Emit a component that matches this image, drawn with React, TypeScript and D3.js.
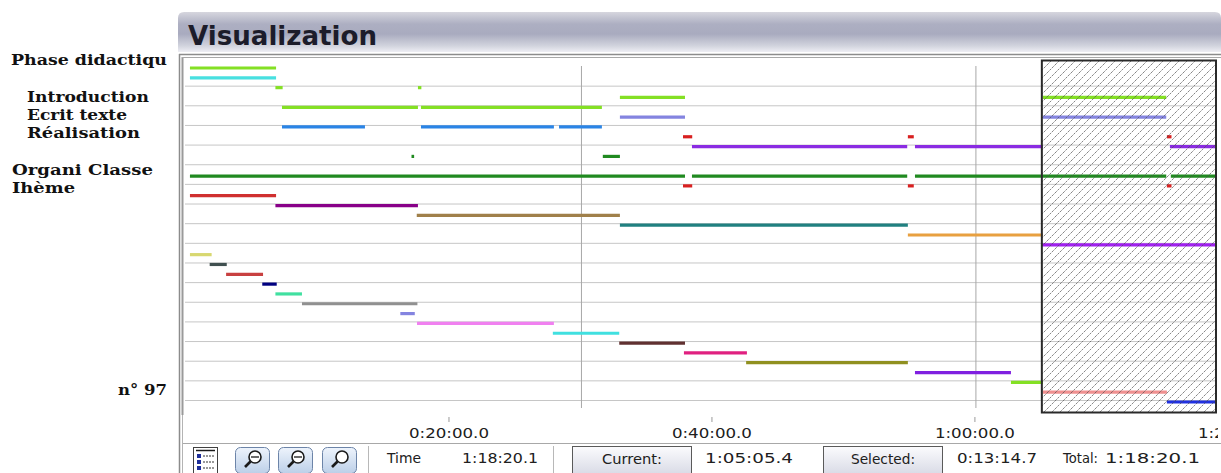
import React from "react";
import * as d3 from "d3";

// ---------- data ----------
const TOTAL_MINUTES = 78.335; // 1:18:20.1
const SELECTION_START = 65.09; // 1:05:05.4
const ROW_COUNT = 35;

const rowColors = [
  "#84e024", "#48e0e0", "#84e024", "#84e024", "#84e024", "#8484e0", "#2a84e6",
  "#d82020", "#8a2be2", "#208a20", "#208a20", "#208a20", "#d82020", "#d03030",
  "#880088", "#a0804a", "#208080", "#e8a040", "#a020f0", "#d8d870", "#405050",
  "#c84040", "#000080", "#40e0a0", "#909090", "#8484e0", "#f080f0", "#40e0e0",
  "#603030", "#e02080", "#909020", "#8020e0", "#84e024", "#f09090", "#2030e0",
];

// [row, start minute, end minute]
const episodes: [number, number, number][] = [
  [0, 0.3, 6.85],
  [1, 0.3, 6.85],
  [2, 6.8, 7.35], [2, 17.64, 17.9],
  [3, 33.0, 37.95], [3, 65.17, 74.55],
  [4, 7.3, 17.64], [4, 17.87, 31.63],
  [5, 33.0, 37.95], [5, 65.17, 74.55],
  [6, 7.3, 13.61], [6, 17.87, 27.98], [6, 28.37, 31.63],
  [7, 37.8, 38.5], [7, 54.9, 55.35], [7, 74.6, 74.95],
  [8, 38.48, 54.85], [8, 55.44, 65.17], [8, 74.83, 78.335],
  [9, 17.15, 17.35], [9, 31.7, 33.0],
  [11, 0.3, 37.95], [11, 38.48, 54.85], [11, 55.44, 74.55], [11, 74.9, 78.335],
  [12, 37.8, 38.5], [12, 54.9, 55.35], [12, 74.6, 74.95],
  [13, 0.3, 6.85],
  [14, 6.8, 17.64],
  [15, 17.55, 33.0],
  [16, 33.0, 54.9],
  [17, 54.9, 65.17],
  [18, 65.1, 78.335],
  [19, 0.3, 1.95],
  [20, 1.8, 3.1],
  [21, 3.05, 5.86],
  [22, 5.8, 6.9],
  [23, 6.8, 8.82],
  [24, 8.82, 17.6],
  [25, 16.3, 17.4],
  [26, 17.57, 27.98],
  [27, 27.9, 32.95],
  [28, 32.95, 37.95],
  [29, 37.87, 42.66],
  [30, 42.6, 54.9],
  [31, 55.44, 62.74],
  [32, 62.74, 65.17],
  [33, 65.17, 74.6],
  [34, 74.6, 78.335],
];

const tickMinutes = [20, 40, 60, 80];
const tickLabels = ["0:20:00.0", "0:40:00.0", "1:00:00.0", "1:20:00.0"];
const gridMinutes = [30, 60];

const rowLabels = ["Phase didactiqu", "Introduction", "Ecrit texte", "Réalisation", "Organi Classe", "Ihème", "n° 97"];

const statusTexts = ["Time", "1:18:20.1", "Current:", "1:05:05.4", "Selected:", "0:13:14.7", "Total:", "1:18:20.1"];

// ---------- layout ----------
const W = 1221;
const H = 473;
const PLOT = { left: 185, right: 1217, top: 59, bottom: 412 };
const labelLayout = [
  { x: 11, y: 65, w: 156 },
  { x: 27, y: 102, w: 122 },
  { x: 27, y: 120, w: 100 },
  { x: 27, y: 138, w: 113 },
  { x: 12, y: 175, w: 141 },
  { x: 12, y: 193, w: 63 },
  { x: 118, y: 395, w: 49 },
];

export default function App() {
  const x = d3.scaleLinear().domain([0, TOTAL_MINUTES]).range([186, 1216]);
  const y = d3.scalePoint<number>().domain(d3.range(ROW_COUNT)).range([68, 402]);
  const gridRows = d3.range(2, ROW_COUNT, 2);
  const selX0 = x(SELECTION_START);
  const selX1 = x(TOTAL_MINUTES) + 1;

  const sans = "'DejaVu Sans', Verdana, sans-serif";
  const serif = "'DejaVu Serif', serif";

  const zoomButtons = [235, 278, 322];

  return (
    <svg
      width={W}
      height={H}
      viewBox={`0 0 ${W} ${H}`}
      style={{ position: "absolute", left: 0, top: 0, display: "block", background: "#fff" }}
    >
      <defs>
        <linearGradient id="titleGrad" x1="0" y1="0" x2="0" y2="1">
          <stop offset="0" stopColor="#d6d6de" />
          <stop offset="0.3" stopColor="#adafc2" />
          <stop offset="0.55" stopColor="#a9abbf" />
          <stop offset="0.85" stopColor="#d2d4de" />
          <stop offset="1" stopColor="#eeeef4" />
        </linearGradient>
        <linearGradient id="btnGrad" x1="0" y1="0" x2="0" y2="1">
          <stop offset="0" stopColor="#fbfbfd" />
          <stop offset="1" stopColor="#d6d8e4" />
        </linearGradient>
        <linearGradient id="zoomGrad" x1="0" y1="0" x2="0" y2="1">
          <stop offset="0" stopColor="#eef4fc" />
          <stop offset="1" stopColor="#bccfe8" />
        </linearGradient>
        <pattern id="hatch" width="8" height="8" patternUnits="userSpaceOnUse">
          <path d="M-1,9 L9,-1 M-1,1 L1,-1 M7,9 L9,7" stroke="#4a4a4a" strokeWidth="0.8" strokeDasharray="2.5,1" />
        </pattern>
        <clipPath id="plotClip">
          <rect x={PLOT.left} y={PLOT.top} width={PLOT.right - PLOT.left} height={PLOT.bottom - PLOT.top + 4} />
        </clipPath>
        <clipPath id="axisClip">
          <rect x={PLOT.left} y={PLOT.bottom} width={PLOT.right - PLOT.left + 1} height={35} />
        </clipPath>
      </defs>

      {/* title bar */}
      <path d="M178,52 V18 Q178,12 184,12 H1215 Q1221,12 1221,18 V52 Z" fill="url(#titleGrad)" />
      <text x={188} y={45} fontFamily={sans} fontWeight="bold" fontSize={26} fill="#1c1c2a" textLength={189} lengthAdjust="spacingAndGlyphs">
        Visualization
      </text>

      {/* panel frame */}
      <line x1={179.5} y1={54} x2={179.5} y2={H} stroke="#8c8c8c" strokeWidth={1.5} />
      <line x1={182.5} y1={57} x2={182.5} y2={415} stroke="#9a9a9a" strokeWidth={2} />
      <line x1={182.5} y1={415} x2={182.5} y2={H} stroke="#b4b4b4" strokeWidth={1} />
      <line x1={179} y1={54.5} x2={W} y2={54.5} stroke="#8c8c8c" strokeWidth={1.5} />
      <line x1={182} y1={57.5} x2={W} y2={57.5} stroke="#a8a8a8" strokeWidth={1} />

      {/* grid */}
      <g clipPath="url(#plotClip)">
        {gridRows.map((r) => (
          <line key={r} x1={PLOT.left} x2={PLOT.right} y1={(y(r) as number) - 1.5} y2={(y(r) as number) - 1.5} stroke="#c6c6c6" strokeWidth={1} />
        ))}
        {gridMinutes.map((m) => (
          <line key={m} x1={x(m) + 1} x2={x(m) + 1} y1={66} y2={408} stroke="#a8a8a8" strokeWidth={1} />
        ))}

        {/* episodes */}
        {episodes.map(([r, s, e], i) => (
          <line
            key={i}
            x1={x(s)}
            x2={x(e)}
            y1={y(r) as number}
            y2={y(r) as number}
            stroke={rowColors[r]}
            strokeWidth={3.2}
          />
        ))}

        {/* selection */}
        <rect x={selX0} y={PLOT.top + 1.5} width={selX1 - selX0} height={PLOT.bottom - PLOT.top - 1} fill="url(#hatch)" opacity={0.85} />
        <rect x={selX0} y={PLOT.top + 1.5} width={selX1 - selX0 - 1} height={PLOT.bottom - PLOT.top - 1} fill="none" stroke="#2a2a2a" strokeWidth={2} />
      </g>

      {/* axis */}
      <g clipPath="url(#axisClip)">
        {tickMinutes.map((m, i) => (
          <g key={m}>
            <line x1={x(m)} x2={x(m)} y1={417} y2={422} stroke="#9a9a9a" strokeWidth={1} />
            <text x={x(m)} y={438} textAnchor="middle" fontFamily={sans} fontSize={14} fill="#202020" textLength={80} lengthAdjust="spacingAndGlyphs">
              {tickLabels[i]}
            </text>
          </g>
        ))}
      </g>

      {/* row labels */}
      {rowLabels.map((t, i) => (
        <text
          key={t}
          x={labelLayout[i].x}
          y={labelLayout[i].y}
          fontFamily={serif}
          fontWeight="bold"
          fontSize={14}
          fill="#111"
          textLength={labelLayout[i].w}
          lengthAdjust="spacingAndGlyphs"
        >
          {t}
        </text>
      ))}

      {/* toolbar */}
      <line x1={183} x2={W} y1={443.5} y2={443.5} stroke="#a8a8a8" strokeWidth={1} />
      {/* list icon */}
      <rect x={193.5} y={447.5} width={24} height={26} fill="#fff" stroke="#404040" strokeWidth={1} />
      <line x1={196} x2={215} y1={450.5} y2={450.5} stroke="#1a1a1a" strokeWidth={1.5} />
      {[454, 460, 466].map((yy) => (
        <g key={yy}>
          <rect x={197} y={yy} width={4} height={4} fill="#1e2e9a" />
          <line x1={203} x2={215} y1={yy + 2} y2={yy + 2} stroke="#333" strokeWidth={1} strokeDasharray="2,1" />
        </g>
      ))}
      {zoomButtons.map((bx, i) => (
        <g key={bx}>
          <rect x={bx + 0.5} y={447.5} width={34} height={26} rx={5} fill="url(#zoomGrad)" stroke="#6c84a8" strokeWidth={1} />
          <circle cx={bx + 20} cy={457} r={6} fill="#fff" stroke="#1a1a1a" strokeWidth={1.6} />
          <line x1={bx + 15.5} y1={461.5} x2={bx + 10} y2={467} stroke="#1a1a1a" strokeWidth={2.6} />
          {i < 2 && <line x1={bx + 16} x2={bx + 24} y1={457} y2={457} stroke="#1a1a1a" strokeWidth={1.3} />}
        </g>
      ))}
      <line x1={368.5} x2={368.5} y1={446} y2={H} stroke="#b8b8b8" strokeWidth={1} />
      <line x1={553.5} x2={553.5} y1={446} y2={H} stroke="#b8b8b8" strokeWidth={1} />

      <text x={387} y={463} fontFamily={sans} fontSize={14} fill="#202020" textLength={34} lengthAdjust="spacingAndGlyphs">{statusTexts[0]}</text>
      <text x={462} y={463} fontFamily={sans} fontSize={14} fill="#202020" textLength={76} lengthAdjust="spacingAndGlyphs">{statusTexts[1]}</text>

      <rect x={572.5} y={446.5} width={119} height={30} fill="url(#btnGrad)" stroke="#5a5a5a" strokeWidth={1} />
      <text x={632} y={464} textAnchor="middle" fontFamily={sans} fontSize={14} fill="#202020" textLength={60} lengthAdjust="spacingAndGlyphs">{statusTexts[2]}</text>
      <text x={705} y={463} fontFamily={sans} fontSize={14} fill="#202020" textLength={88} lengthAdjust="spacingAndGlyphs">{statusTexts[3]}</text>

      <rect x={823.5} y={446.5} width={119} height={30} fill="url(#btnGrad)" stroke="#5a5a5a" strokeWidth={1} />
      <text x={883} y={464} textAnchor="middle" fontFamily={sans} fontSize={14} fill="#202020" textLength={64} lengthAdjust="spacingAndGlyphs">{statusTexts[4]}</text>
      <text x={957} y={463} fontFamily={sans} fontSize={14} fill="#202020" textLength={80} lengthAdjust="spacingAndGlyphs">{statusTexts[5]}</text>
      <text x={1063} y={463} fontFamily={sans} fontSize={14} fill="#202020" textLength={35} lengthAdjust="spacingAndGlyphs">{statusTexts[6]}</text>
      <text x={1105} y={463} fontFamily={sans} fontSize={14} fill="#202020" textLength={95} lengthAdjust="spacingAndGlyphs">{statusTexts[7]}</text>
    </svg>
  );
}
